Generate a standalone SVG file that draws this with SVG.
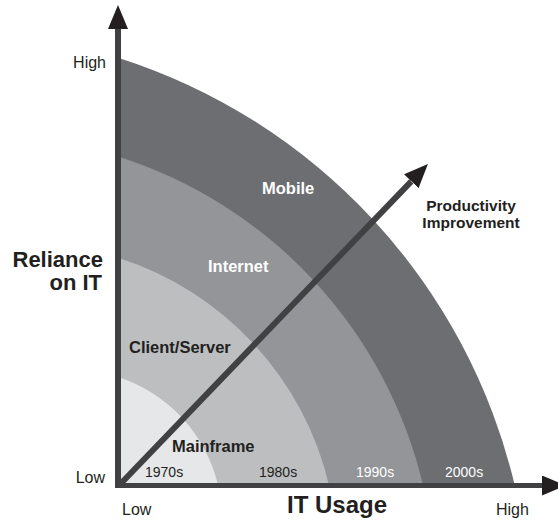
<svg xmlns="http://www.w3.org/2000/svg" width="558" height="521" viewBox="0 0 558 521">
  <style>
    text { font-family: "Liberation Sans", Arial, Helvetica, sans-serif; fill: #231f20; }
    .axis-label { font-size: 16px; }
    .title { font-size: 22px; font-weight: bold; }
    .band-label { font-size: 16.5px; font-weight: bold; }
    .note { font-size: 15.5px; font-weight: bold; }
    .light { fill: #ffffff; }
    .decade { font-size: 14px; }
    .shaft { stroke: #414042; fill: none; stroke-linecap: butt; }
  </style>
  <defs>
    <marker id="head" viewBox="0 0 24 20" refX="0" refY="10" markerWidth="24" markerHeight="20" markerUnits="userSpaceOnUse" orient="auto">
      <path d="M0,0 L24,10 L0,20 Z" fill="#231f20"/>
    </marker>
  </defs>

  <!-- era bands: same arc scaled about the origin (118,485) -->
  <g id="band-mobile">
    <path d="M118,486 L118,57.7 A592,592 0 0 1 514.9,486 Z" fill="#6d6e71"/>
  </g>
  <g id="band-internet">
    <path d="M118,486 L118,156.4 A455.2,455.2 0 0 1 423.2,486 Z" fill="#939598"/>
  </g>
  <g id="band-clientserver">
    <path d="M118,486 L118,257.7 A314.9,314.9 0 0 1 329.2,486 Z" fill="#bcbec0"/>
  </g>
  <g id="band-mainframe">
    <path d="M118,486 L118,377.1 A149.5,149.5 0 0 1 218.2,486 Z" fill="#e6e7e8"/>
  </g>

  <!-- connectors: axes and productivity arrow -->
  <g id="connectors">
    <line class="shaft" x1="118.5" y1="486" x2="411.3" y2="181.3" stroke-width="6" marker-end="url(#head)"/>
    <line class="shaft" x1="118" y1="488" x2="118" y2="29" stroke-width="6" marker-end="url(#head)"/>
    <line class="shaft" x1="115" y1="485.5" x2="542" y2="485.5" stroke-width="5" marker-end="url(#head)"/>
  </g>

  <!-- band labels -->
  <g id="labels-bands">
    <text class="band-label light" x="262" y="194">Mobile</text>
    <text class="band-label light" x="208" y="272">Internet</text>
    <text class="band-label" x="129" y="353">Client/Server</text>
    <text class="band-label" x="172" y="452">Mainframe</text>
  </g>

  <g id="labels-decades">
    <text class="decade" x="145" y="477">1970s</text>
    <text class="decade" x="259" y="477">1980s</text>
    <text class="decade light" x="356" y="477">1990s</text>
    <text class="decade light" x="445" y="477">2000s</text>
  </g>

  <g id="label-productivity">
    <text class="note" x="471" y="211" text-anchor="middle">Productivity</text>
    <text class="note" x="471" y="228" text-anchor="middle">Improvement</text>
  </g>

  <!-- axis labels -->
  <g id="y-axis-labels">
    <text class="axis-label" x="106" y="68" text-anchor="end">High</text>
    <text class="axis-label" x="105" y="483" text-anchor="end">Low</text>
    <text class="title" x="103" y="267" text-anchor="end">Reliance</text>
    <text class="title" x="102" y="290" text-anchor="end">on IT</text>
  </g>
  <g id="x-axis-labels">
    <text class="axis-label" x="122" y="515">Low</text>
    <text class="axis-label" x="496" y="515">High</text>
    <text class="title" x="287" y="513" style="font-size:24px">IT Usage</text>
  </g>
</svg>
